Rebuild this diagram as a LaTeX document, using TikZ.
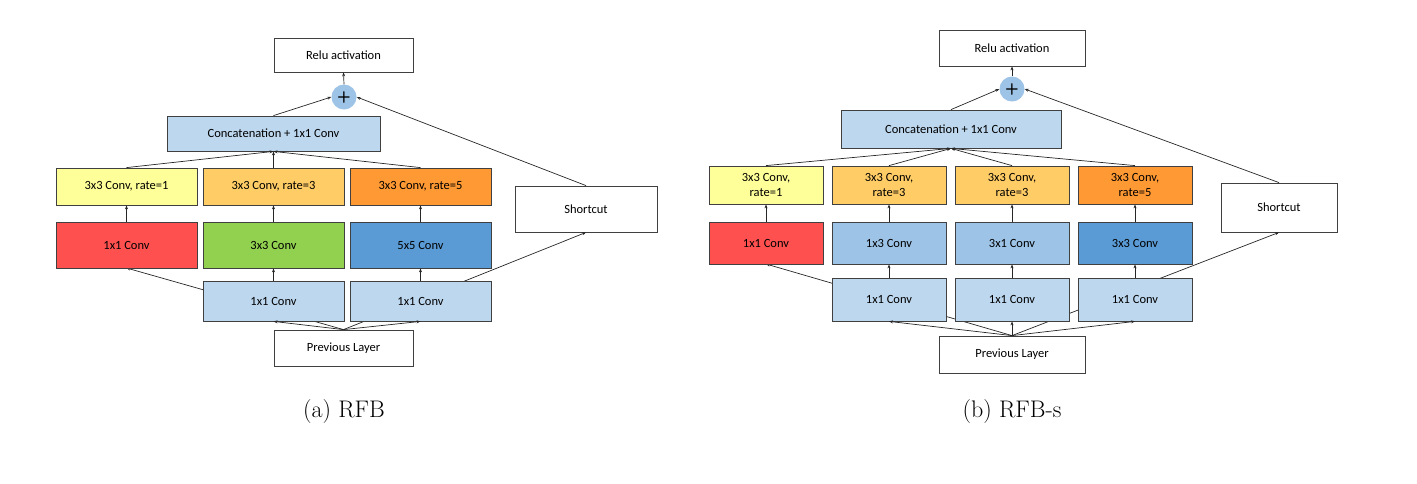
\documentclass[tikz,border=0pt]{standalone}
\usepackage{fontspec}
\newfontfamily\carlitofont{Carlito}
\usetikzlibrary{arrows.meta}
\definecolor{cy}{HTML}{FFFF99}
\definecolor{clo}{HTML}{FFCC66}
\definecolor{co}{HTML}{FF9933}
\definecolor{cr}{HTML}{FF5050}
\definecolor{cg}{HTML}{92D050}
\definecolor{cb}{HTML}{5B9BD5}
\definecolor{clb}{HTML}{BDD7EE}
\definecolor{cmb}{HTML}{9DC3E6}
\begin{document}
\begin{tikzpicture}[x=1pt,y=-1pt,
  box/.style={draw=black!75,line width=0.8pt,inner sep=0pt,align=center,font=\carlitofont\fontsize{12.5}{15}\selectfont},
  plus/.style={circle,fill=cmb,minimum size=25pt,inner sep=0pt,font=\sffamily\bfseries\fontsize{16}{16}\selectfont},
  arr/.style={-{Stealth[length=4pt,width=3pt]},line width=0.7pt,black!85},
  captxt/.style={font=\fontsize{24}{28}\selectfont}]
\useasboundingbox (0,0) rectangle (1417,483);
% ---------- (a)
\node[box,minimum width=139pt,minimum height=34pt] (ar) at (343.5,55) {Relu activation};
\node[plus] (ap) at (344,97) {+};
\node[box,fill=clb,minimum width=213pt,minimum height=35pt] (ac) at (273.5,133.5) {Concatenation + 1x1 Conv};
\node[box,minimum width=139pt,minimum height=36pt] (apv) at (343.5,348) {Previous Layer};
\node[box,minimum width=142pt,minimum height=46pt] (as) at (586,209) {Shortcut};
\coordinate (ared) at (126.5,268);
\draw[arr] (apv.north) -- (ared);
\draw[arr] (apv.north) -- (as.south);
\node[box,fill=cy,minimum width=141pt,minimum height=37pt] (a11) at (126.5,186.5) {3x3 Conv, rate=1};
\node[box,fill=clo,minimum width=141pt,minimum height=37pt] (a12) at (273.5,186.5) {3x3 Conv, rate=3};
\node[box,fill=co,minimum width=141pt,minimum height=37pt] (a13) at (420.5,186.5) {3x3 Conv, rate=5};
\node[box,fill=cr,minimum width=141pt,minimum height=46pt] (a21) at (126.5,245) {1x1 Conv};
\node[box,fill=cg,minimum width=141pt,minimum height=46pt] (a22) at (273.5,245) {3x3 Conv};
\node[box,fill=cb,minimum width=141pt,minimum height=46pt] (a23) at (420.5,245) {5x5 Conv};
\node[box,fill=clb,minimum width=141pt,minimum height=40pt] (a32) at (273.5,301) {1x1 Conv};
\node[box,fill=clb,minimum width=141pt,minimum height=40pt] (a33) at (420.5,301) {1x1 Conv};
\draw[arr] (apv.north) -- (a32.south);
\draw[arr] (apv.north) -- (a33.south);
\draw[arr] (a32.north) -- (a22.south);
\draw[arr] (a33.north) -- (a23.south);
\foreach \i in {1,2,3} \draw[arr] (a2\i.north) -- (a1\i.south);
\foreach \i in {1,2,3} \draw[arr] (a1\i.north) -- (ac.south);
\draw[arr] (ac.north) -- (ap.west);
\draw[arr] (as.north) -- (ap.east);
\draw[arr] (ap.north) -- (ar.south);
\node[captxt] (acap) at (344,412) {(a) RFB};
% ---------- (b)
\node[box,minimum width=146pt,minimum height=36pt] (br) at (1012,48) {Relu activation};
\node[plus] (bp) at (1012,89) {+};
\node[box,fill=clb,minimum width=220pt,minimum height=38pt] (bc) at (951,129) {Concatenation + 1x1 Conv};
\node[box,minimum width=146pt,minimum height=37pt] (bpv) at (1012,354.5) {Previous Layer};
\node[box,minimum width=116pt,minimum height=49pt] (bs) at (1279,207.5) {Shortcut};
\coordinate (bred) at (766,264);
\draw[arr] (bpv.north) -- (bred);
\draw[arr] (bpv.north) -- (bs.south);
\node[box,fill=cy,minimum width=114pt,minimum height=38pt] (b11) at (766,185) {3x3 Conv,\\rate=1};
\node[box,fill=clo,minimum width=114pt,minimum height=38pt] (b12) at (889,185) {3x3 Conv,\\rate=3};
\node[box,fill=clo,minimum width=114pt,minimum height=38pt] (b13) at (1012,185) {3x3 Conv,\\rate=3};
\node[box,fill=co,minimum width=114pt,minimum height=38pt] (b14) at (1135,185) {3x3 Conv,\\rate=5};
\node[box,fill=cr,minimum width=114pt,minimum height=42pt] (b21) at (766,243) {1x1 Conv};
\node[box,fill=cmb,minimum width=114pt,minimum height=42pt] (b22) at (889,243) {1x3 Conv};
\node[box,fill=cmb,minimum width=114pt,minimum height=42pt] (b23) at (1012,243) {3x1 Conv};
\node[box,fill=cb,minimum width=114pt,minimum height=42pt] (b24) at (1135,243) {3x3 Conv};
\node[box,fill=clb,minimum width=114pt,minimum height=43pt] (b32) at (889,299.5) {1x1 Conv};
\node[box,fill=clb,minimum width=114pt,minimum height=43pt] (b33) at (1012,299.5) {1x1 Conv};
\node[box,fill=clb,minimum width=114pt,minimum height=43pt] (b34) at (1135,299.5) {1x1 Conv};
\foreach \i in {2,3,4} {\draw[arr] (bpv.north) -- (b3\i.south); \draw[arr] (b3\i.north) -- (b2\i.south);}
\foreach \i in {1,2,3,4} {\draw[arr] (b2\i.north) -- (b1\i.south); \draw[arr] (b1\i.north) -- (bc.south);}
\draw[arr] (bc.north) -- (bp.west);
\draw[arr] (bs.north) -- (bp.east);
\draw[arr] (bp.north) -- (br.south);
\node[captxt] (bcap) at (1012,412) {(b) RFB-s};
\end{tikzpicture}
\end{document}
